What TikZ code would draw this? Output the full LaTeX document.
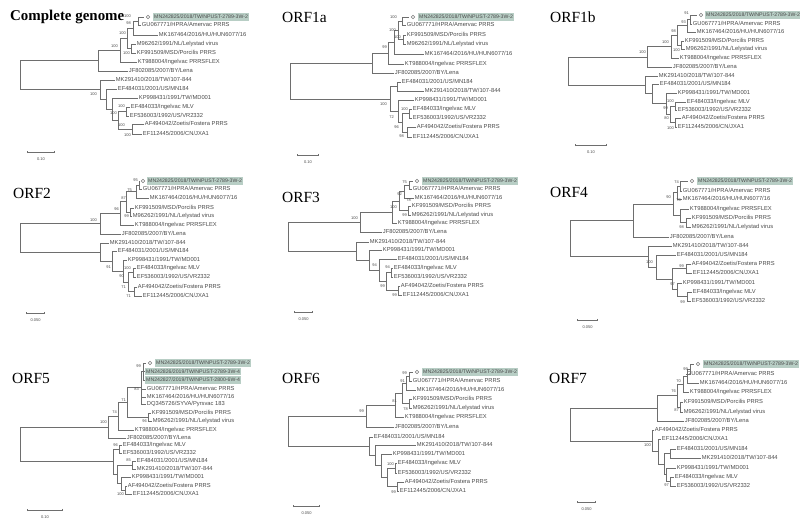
\documentclass[tikz,border=0pt]{standalone}
\usepackage{fontspec}
\setmainfont{Liberation Serif}
\newfontfamily\treefont{Liberation Sans}
\usetikzlibrary{arrows.meta}
\definecolor{branchgray}{RGB}{110,110,110}
\definecolor{labelgray}{RGB}{75,75,75}
\definecolor{hilitegreen}{RGB}{184,206,197}
\definecolor{markgray}{RGB}{120,120,120}
\newcommand{\leaffont}{\treefont\fontsize{5.8}{6}\selectfont}
\newcommand{\hilitefont}{\treefont\fontsize{5.2}{6}\selectfont}
\newcommand{\bootfont}{\treefont\fontsize{4}{5}\selectfont}
\newcommand{\titlefont}{\fontsize{15.5}{17}\selectfont}

\begin{document}
\begin{tikzpicture}[x=1bp, y=-1bp]
    \useasboundingbox[fill=white] (0,0) rectangle (800,530);
    \tikzset{Branch/.style={draw=branchgray, line width=0.6bp}}
    \tikzset{Leaf/.style={anchor=west, inner sep=0.7bp, font=\leaffont, text=labelgray, text height=4.1bp, text depth=0.5bp}}
    \tikzset{HiLeaf/.style={Leaf, font=\hilitefont, fill=hilitegreen, inner xsep=1bp, inner ysep=1.3bp}}
    \tikzset{Marker/.style={circle, draw=markgray, line width=0.45bp, minimum size=3.6bp, inner sep=0pt, outer sep=2.3bp}}
    \tikzset{Boot/.style={anchor=east, inner sep=0pt, font=\bootfont, text=labelgray}}
    \tikzset{Title/.style={anchor=base west, inner sep=0pt, font=\titlefont}}
    \tikzset{ScaleBar/.style={draw=branchgray, line width=0.6bp, arrows={Bar[width=2.4bp]-Bar[width=2.4bp]}}}
    \tikzset{ScaleText/.style={font=\bootfont, text=labelgray, inner sep=0pt, below=5.5bp}}

    % complete genome
    \node[Title, font={\fontsize{15}{17}\selectfont\bfseries}] (cg-title) at (10,21) {Complete genome};
    \node[Marker] (cg-mark) at (148,17) {};
    \node[HiLeaf] (cg-leaf-1) at (153,17) {MN242825/2018/TW/NPUST-2789-3W-2};
    \node[Leaf] (cg-leaf-2) at (141,25) {GU067771/HPRA/Amervac PRRS};
    \node[Leaf] (cg-leaf-3) at (158,35) {MK167464/2016/HU/HUN6077/16};
    \node[Leaf] (cg-leaf-4) at (136,44) {M96262/1991/NL/Lelystad virus};
    \node[Leaf] (cg-leaf-5) at (136,53) {KF991509/MSD/Porcilis PRRS};
    \node[Leaf] (cg-leaf-6) at (137,62) {KT988004/Ingelvac PRRSFLEX};
    \node[Leaf] (cg-leaf-7) at (128,71) {JF802085/2007/BY/Lena};
    \node[Leaf] (cg-leaf-8) at (115,80) {MK291410/2018/TW/107-844};
    \node[Leaf] (cg-leaf-9) at (117,89) {EF484031/2001/US/MN184};
    \node[Leaf] (cg-leaf-10) at (138,98) {KP998431/1991/TW/MD001};
    \node[Leaf] (cg-leaf-11) at (130,107) {EF484033/Ingelvac MLV};
    \node[Leaf] (cg-leaf-12) at (129,116) {EF536003/1992/US/VR2332};
    \node[Leaf] (cg-leaf-13) at (144,124) {AF494042/Zoetis/Fostera PRRS};
    \node[Leaf] (cg-leaf-14) at (142,134) {EF112445/2006/CN/JXA1};
    \coordinate (cg-node-1) at (138,21);
    \coordinate (cg-node-2) at (133,28);
    \coordinate (cg-node-3) at (131,48.5);
    \coordinate (cg-node-4) at (127,38.25);
    \coordinate (cg-node-5) at (120,50.1);
    \coordinate (cg-node-6) at (98,60.5);
    \coordinate (cg-node-7) at (126,111.5);
    \coordinate (cg-node-8) at (132,129);
    \coordinate (cg-node-9) at (118,120.25);
    \coordinate (cg-node-10) at (112,109.1);
    \coordinate (cg-node-11) at (106,99);
    \coordinate (cg-node-12) at (100,89.5);
    \coordinate (cg-root) at (20,75);
    \draw[Branch] (cg-node-1) |- (cg-mark) (cg-node-1) |- (cg-leaf-2);
    \draw[Branch] (cg-node-2) |- (cg-node-1) (cg-node-2) |- (cg-leaf-3);
    \draw[Branch] (cg-node-3) |- (cg-leaf-4) (cg-node-3) |- (cg-leaf-5);
    \draw[Branch] (cg-node-4) |- (cg-node-2) (cg-node-4) |- (cg-node-3);
    \draw[Branch] (cg-node-5) |- (cg-node-4) (cg-node-5) |- (cg-leaf-6);
    \draw[Branch] (cg-node-6) |- (cg-node-5) (cg-node-6) |- (cg-leaf-7);
    \draw[Branch] (cg-node-7) |- (cg-leaf-11) (cg-node-7) |- (cg-leaf-12);
    \draw[Branch] (cg-node-8) |- (cg-leaf-13) (cg-node-8) |- (cg-leaf-14);
    \draw[Branch] (cg-node-9) |- (cg-node-7) (cg-node-9) |- (cg-node-8);
    \draw[Branch] (cg-node-10) |- (cg-leaf-10) (cg-node-10) |- (cg-node-9);
    \draw[Branch] (cg-node-11) |- (cg-leaf-9) (cg-node-11) |- (cg-node-10);
    \draw[Branch] (cg-node-12) |- (cg-leaf-8) (cg-node-12) |- (cg-node-11);
    \draw[Branch] (cg-root) |- (cg-node-6) (cg-root) |- (cg-node-12);
    \node[Boot] (cg-boot-1) at (131,16.5) {100};
    \node[Boot] (cg-boot-2) at (131,23.5) {98};
    \node[Boot] (cg-boot-3) at (126,33) {100};
    \node[Boot] (cg-boot-4) at (118,46) {100};
    \node[Boot] (cg-boot-5) at (130,53) {100};
    \node[Boot] (cg-boot-6) at (97,94) {100};
    \node[Boot] (cg-boot-7) at (125,106) {100};
    \node[Boot] (cg-boot-8) at (117,113) {100};
    \node[Boot] (cg-boot-9) at (125,125) {100};
    \node[Boot] (cg-boot-10) at (131,135) {100};
    \coordinate (cg-bar-l) at (27,152);
    \coordinate (cg-bar-r) at (55,152);
    \draw[ScaleBar] (cg-bar-l) -- node[ScaleText] (cg-bar-t) {0.10} (cg-bar-r);

    % ORF1a
    \node[Title] (a-title) at (282,23) {ORF1a};
    \node[Marker] (a-mark) at (413,17) {};
    \node[HiLeaf] (a-leaf-1) at (418,17) {MN242825/2018/TW/NPUST-2789-3W-2};
    \node[Leaf] (a-leaf-2) at (406,25) {GU067771/HPRA/Amervac PRRS};
    \node[Leaf] (a-leaf-3) at (406,35) {KF991509/MSD/Porcilis PRRS};
    \node[Leaf] (a-leaf-4) at (406,44) {M96262/1991/NL/Lelystad virus};
    \node[Leaf] (a-leaf-5) at (424,54) {MK167464/2016/HU/HUN6077/16};
    \node[Leaf] (a-leaf-6) at (404,64) {KT988004/Ingelvac PRRSFLEX};
    \node[Leaf] (a-leaf-7) at (394,73) {JF802085/2007/BY/Lena};
    \node[Leaf] (a-leaf-8) at (401,82) {EF484031/2001/US/MN184};
    \node[Leaf] (a-leaf-9) at (424,91) {MK291410/2018/TW/107-844};
    \node[Leaf] (a-leaf-10) at (414,100) {KP998431/1991/TW/MD001};
    \node[Leaf] (a-leaf-11) at (412,109) {EF484033/Ingelvac MLV};
    \node[Leaf] (a-leaf-12) at (412,118) {EF536003/1992/US/VR2332};
    \node[Leaf] (a-leaf-13) at (416,127) {AF494042/Zoetis/Fostera PRRS};
    \node[Leaf] (a-leaf-14) at (412,137) {EF112445/2006/CN/JXA1};
    \coordinate (a-node-1) at (402,21);
    \coordinate (a-node-2) at (403,39.5);
    \coordinate (a-node-3) at (398,30.25);
    \coordinate (a-node-4) at (394,42.1);
    \coordinate (a-node-5) at (388,53);
    \coordinate (a-node-6) at (372,63);
    \coordinate (a-node-7) at (397,86.5);
    \coordinate (a-node-8) at (409,113.5);
    \coordinate (a-node-9) at (407,132);
    \coordinate (a-node-10) at (402,122.75);
    \coordinate (a-node-11) at (398,111.4);
    \coordinate (a-node-12) at (390,99);
    \coordinate (a-root) at (290,81);
    \draw[Branch] (a-node-1) |- (a-mark) (a-node-1) |- (a-leaf-2);
    \draw[Branch] (a-node-2) |- (a-leaf-3) (a-node-2) |- (a-leaf-4);
    \draw[Branch] (a-node-3) |- (a-node-1) (a-node-3) |- (a-node-2);
    \draw[Branch] (a-node-4) |- (a-node-3) (a-node-4) |- (a-leaf-5);
    \draw[Branch] (a-node-5) |- (a-node-4) (a-node-5) |- (a-leaf-6);
    \draw[Branch] (a-node-6) |- (a-node-5) (a-node-6) |- (a-leaf-7);
    \draw[Branch] (a-node-7) |- (a-leaf-8) (a-node-7) |- (a-leaf-9);
    \draw[Branch] (a-node-8) |- (a-leaf-11) (a-node-8) |- (a-leaf-12);
    \draw[Branch] (a-node-9) |- (a-leaf-13) (a-node-9) |- (a-leaf-14);
    \draw[Branch] (a-node-10) |- (a-node-8) (a-node-10) |- (a-node-9);
    \draw[Branch] (a-node-11) |- (a-leaf-10) (a-node-11) |- (a-node-10);
    \draw[Branch] (a-node-12) |- (a-node-7) (a-node-12) |- (a-node-11);
    \draw[Branch] (a-root) |- (a-node-6) (a-root) |- (a-node-12);
    \node[Boot] (a-boot-1) at (397,17.5) {100};
    \node[Boot] (a-boot-2) at (396,30) {100};
    \node[Boot] (a-boot-3) at (401,37) {100};
    \node[Boot] (a-boot-4) at (387,47) {99};
    \node[Boot] (a-boot-5) at (387,104) {100};
    \node[Boot] (a-boot-6) at (408,109) {100};
    \node[Boot] (a-boot-7) at (394,117) {72};
    \node[Boot] (a-boot-8) at (399,127.5) {96};
    \node[Boot] (a-boot-9) at (404,136.5) {98};
    \coordinate (a-bar-l) at (297,155);
    \coordinate (a-bar-r) at (319,155);
    \draw[ScaleBar] (a-bar-l) -- node[ScaleText] (a-bar-t) {0.10} (a-bar-r);

    % ORF1b
    \node[Title] (b-title) at (550,23) {ORF1b};
    \node[Marker] (b-mark) at (701,15) {};
    \node[HiLeaf] (b-leaf-1) at (705,15) {MN242825/2018/TW/NPUST-2789-3W-2};
    \node[Leaf] (b-leaf-2) at (692,24) {GU067771/HPRA/Amervac PRRS};
    \node[Leaf] (b-leaf-3) at (696,32) {MK167464/2016/HU/HUN6077/16};
    \node[Leaf] (b-leaf-4) at (684,41) {KF991509/MSD/Porcilis PRRS};
    \node[Leaf] (b-leaf-5) at (685,49) {M96262/1991/NL/Lelystad virus};
    \node[Leaf] (b-leaf-6) at (679,58) {KT988004/Ingelvac PRRSFLEX};
    \node[Leaf] (b-leaf-7) at (672,67) {JF802085/2007/BY/Lena};
    \node[Leaf] (b-leaf-8) at (658,76) {MK291410/2018/TW/107-844};
    \node[Leaf] (b-leaf-9) at (659,84) {EF484031/2001/US/MN184};
    \node[Leaf] (b-leaf-10) at (677,93) {KP998431/1991/TW/MD001};
    \node[Leaf] (b-leaf-11) at (686,102) {EF484033/Ingelvac MLV};
    \node[Leaf] (b-leaf-12) at (677,110) {EF536003/1992/US/VR2332};
    \node[Leaf] (b-leaf-13) at (681,118) {AF494042/Zoetis/Fostera PRRS};
    \node[Leaf] (b-leaf-14) at (677,127) {EF112445/2006/CN/JXA1};
    \coordinate (b-node-1) at (690,19.5);
    \coordinate (b-node-2) at (687,25.75);
    \coordinate (b-node-3) at (681,45);
    \coordinate (b-node-4) at (677,35.4);
    \coordinate (b-node-5) at (671,46.7);
    \coordinate (b-node-6) at (647,56.9);
    \coordinate (b-node-7) at (675,106);
    \coordinate (b-node-8) at (675,122.5);
    \coordinate (b-node-9) at (670,114.25);
    \coordinate (b-node-10) at (666,103.6);
    \coordinate (b-node-11) at (652,93.8);
    \coordinate (b-node-12) at (645,84.9);
    \coordinate (b-root) at (568,70.9);
    \draw[Branch] (b-node-1) |- (b-mark) (b-node-1) |- (b-leaf-2);
    \draw[Branch] (b-node-2) |- (b-node-1) (b-node-2) |- (b-leaf-3);
    \draw[Branch] (b-node-3) |- (b-leaf-4) (b-node-3) |- (b-leaf-5);
    \draw[Branch] (b-node-4) |- (b-node-2) (b-node-4) |- (b-node-3);
    \draw[Branch] (b-node-5) |- (b-node-4) (b-node-5) |- (b-leaf-6);
    \draw[Branch] (b-node-6) |- (b-node-5) (b-node-6) |- (b-leaf-7);
    \draw[Branch] (b-node-7) |- (b-leaf-11) (b-node-7) |- (b-leaf-12);
    \draw[Branch] (b-node-8) |- (b-leaf-13) (b-node-8) |- (b-leaf-14);
    \draw[Branch] (b-node-9) |- (b-node-7) (b-node-9) |- (b-node-8);
    \draw[Branch] (b-node-10) |- (b-leaf-10) (b-node-10) |- (b-node-9);
    \draw[Branch] (b-node-11) |- (b-leaf-9) (b-node-11) |- (b-node-10);
    \draw[Branch] (b-node-12) |- (b-leaf-8) (b-node-12) |- (b-node-11);
    \draw[Branch] (b-root) |- (b-node-6) (b-root) |- (b-node-12);
    \node[Boot] (b-boot-1) at (689,13.5) {91};
    \node[Boot] (b-boot-2) at (686,22) {93};
    \node[Boot] (b-boot-3) at (676,31) {98};
    \node[Boot] (b-boot-4) at (669,42) {100};
    \node[Boot] (b-boot-5) at (680,50) {100};
    \node[Boot] (b-boot-6) at (646,52) {100};
    \node[Boot] (b-boot-7) at (674,101) {100};
    \node[Boot] (b-boot-8) at (668,108) {99};
    \node[Boot] (b-boot-9) at (669,118) {80};
    \node[Boot] (b-boot-10) at (674,128) {100};
    \coordinate (b-bar-l) at (575,145);
    \coordinate (b-bar-r) at (607,145);
    \draw[ScaleBar] (b-bar-l) -- node[ScaleText] (b-bar-t) {0.10} (b-bar-r);

    % ORF2
    \node[Title] (o2-title) at (13,199) {ORF2};
    \node[Marker] (o2-mark) at (143,181) {};
    \node[HiLeaf] (o2-leaf-1) at (147,181) {MN242825/2018/TW/NPUST-2789-3W-2};
    \node[Leaf] (o2-leaf-2) at (142,189) {GU067771/HPRA/Amervac PRRS};
    \node[Leaf] (o2-leaf-3) at (149,198) {MK167464/2016/HU/HUN6077/16};
    \node[Leaf] (o2-leaf-4) at (134,208) {KF991509/MSD/Porcilis PRRS};
    \node[Leaf] (o2-leaf-5) at (132,216) {M96262/1991/NL/Lelystad virus};
    \node[Leaf] (o2-leaf-6) at (134,225) {KT988004/Ingelvac PRRSFLEX};
    \node[Leaf] (o2-leaf-7) at (121,234) {JF802085/2007/BY/Lena};
    \node[Leaf] (o2-leaf-8) at (109,243) {MK291410/2018/TW/107-844};
    \node[Leaf] (o2-leaf-9) at (117,251) {EF484031/2001/US/MN184};
    \node[Leaf] (o2-leaf-10) at (127,260) {KP998431/1991/TW/MD001};
    \node[Leaf] (o2-leaf-11) at (136,268) {EF484033/Ingelvac MLV};
    \node[Leaf] (o2-leaf-12) at (136,277) {EF536003/1992/US/VR2332};
    \node[Leaf] (o2-leaf-13) at (137,287) {AF494042/Zoetis/Fostera PRRS};
    \node[Leaf] (o2-leaf-14) at (142,296) {EF112445/2006/CN/JXA1};
    \coordinate (o2-node-1) at (139,185);
    \coordinate (o2-node-2) at (136,191.5);
    \coordinate (o2-node-3) at (130,212);
    \coordinate (o2-node-4) at (126,201.75);
    \coordinate (o2-node-5) at (120,213.4);
    \coordinate (o2-node-6) at (100,223.7);
    \coordinate (o2-node-7) at (133,272.5);
    \coordinate (o2-node-8) at (134,291.5);
    \coordinate (o2-node-9) at (128,282);
    \coordinate (o2-node-10) at (123,271);
    \coordinate (o2-node-11) at (112,261);
    \coordinate (o2-node-12) at (100,252);
    \coordinate (o2-root) at (20,237.85);
    \draw[Branch] (o2-node-1) |- (o2-mark) (o2-node-1) |- (o2-leaf-2);
    \draw[Branch] (o2-node-2) |- (o2-node-1) (o2-node-2) |- (o2-leaf-3);
    \draw[Branch] (o2-node-3) |- (o2-leaf-4) (o2-node-3) |- (o2-leaf-5);
    \draw[Branch] (o2-node-4) |- (o2-node-2) (o2-node-4) |- (o2-node-3);
    \draw[Branch] (o2-node-5) |- (o2-node-4) (o2-node-5) |- (o2-leaf-6);
    \draw[Branch] (o2-node-6) |- (o2-node-5) (o2-node-6) |- (o2-leaf-7);
    \draw[Branch] (o2-node-7) |- (o2-leaf-11) (o2-node-7) |- (o2-leaf-12);
    \draw[Branch] (o2-node-8) |- (o2-leaf-13) (o2-node-8) |- (o2-leaf-14);
    \draw[Branch] (o2-node-9) |- (o2-node-7) (o2-node-9) |- (o2-node-8);
    \draw[Branch] (o2-node-10) |- (o2-leaf-10) (o2-node-10) |- (o2-node-9);
    \draw[Branch] (o2-node-11) |- (o2-leaf-9) (o2-node-11) |- (o2-node-10);
    \draw[Branch] (o2-node-12) |- (o2-leaf-8) (o2-node-12) |- (o2-node-11);
    \draw[Branch] (o2-root) |- (o2-node-6) (o2-root) |- (o2-node-12);
    \node[Boot] (o2-boot-1) at (138,180.5) {95};
    \node[Boot] (o2-boot-2) at (132,190) {75};
    \node[Boot] (o2-boot-3) at (126,198) {87};
    \node[Boot] (o2-boot-4) at (119,209) {96};
    \node[Boot] (o2-boot-5) at (129,216) {99};
    \node[Boot] (o2-boot-6) at (97,220) {100};
    \node[Boot] (o2-boot-7) at (111,267) {91};
    \node[Boot] (o2-boot-8) at (131,268.5) {100};
    \node[Boot] (o2-boot-9) at (124,276) {90};
    \node[Boot] (o2-boot-10) at (126,287) {71};
    \node[Boot] (o2-boot-11) at (131,296.5) {71};
    \coordinate (o2-bar-l) at (26,313);
    \coordinate (o2-bar-r) at (45,313);
    \draw[ScaleBar] (o2-bar-l) -- node[ScaleText] (o2-bar-t) {0.050} (o2-bar-r);

    % ORF3
    \node[Title] (o3-title) at (282,203) {ORF3};
    \node[Marker] (o3-mark) at (417,181) {};
    \node[HiLeaf] (o3-leaf-1) at (422,181) {MN242825/2018/TW/NPUST-2789-3W-2};
    \node[Leaf] (o3-leaf-2) at (412,189) {GU067771/HPRA/Amervac PRRS};
    \node[Leaf] (o3-leaf-3) at (414,198) {MK167464/2016/HU/HUN6077/16};
    \node[Leaf] (o3-leaf-4) at (411,206) {KF991509/MSD/Porcilis PRRS};
    \node[Leaf] (o3-leaf-5) at (411,215) {M96262/1991/NL/Lelystad virus};
    \node[Leaf] (o3-leaf-6) at (397,223) {KT988004/Ingelvac PRRSFLEX};
    \node[Leaf] (o3-leaf-7) at (382,232) {JF802085/2007/BY/Lena};
    \node[Leaf] (o3-leaf-8) at (369,242) {MK291410/2018/TW/107-844};
    \node[Leaf] (o3-leaf-9) at (382,250) {KP998431/1991/TW/MD001};
    \node[Leaf] (o3-leaf-10) at (397,259) {EF484031/2001/US/MN184};
    \node[Leaf] (o3-leaf-11) at (393,268) {EF484033/Ingelvac MLV};
    \node[Leaf] (o3-leaf-12) at (393,277) {EF536003/1992/US/VR2332};
    \node[Leaf] (o3-leaf-13) at (400,286) {AF494042/Zoetis/Fostera PRRS};
    \node[Leaf] (o3-leaf-14) at (402,295) {EF112445/2006/CN/JXA1};
    \coordinate (o3-node-1) at (409,185);
    \coordinate (o3-node-2) at (404,191.5);
    \coordinate (o3-node-3) at (408,210.5);
    \coordinate (o3-node-4) at (399,201);
    \coordinate (o3-node-5) at (392,212);
    \coordinate (o3-node-6) at (360,222);
    \coordinate (o3-node-7) at (391,272.5);
    \coordinate (o3-node-8) at (398,290.5);
    \coordinate (o3-node-9) at (386,281.5);
    \coordinate (o3-node-10) at (379,270.25);
    \coordinate (o3-node-11) at (369,260);
    \coordinate (o3-node-12) at (356,251);
    \coordinate (o3-root) at (288,236.5);
    \draw[Branch] (o3-node-1) |- (o3-mark) (o3-node-1) |- (o3-leaf-2);
    \draw[Branch] (o3-node-2) |- (o3-node-1) (o3-node-2) |- (o3-leaf-3);
    \draw[Branch] (o3-node-3) |- (o3-leaf-4) (o3-node-3) |- (o3-leaf-5);
    \draw[Branch] (o3-node-4) |- (o3-node-2) (o3-node-4) |- (o3-node-3);
    \draw[Branch] (o3-node-5) |- (o3-node-4) (o3-node-5) |- (o3-leaf-6);
    \draw[Branch] (o3-node-6) |- (o3-node-5) (o3-node-6) |- (o3-leaf-7);
    \draw[Branch] (o3-node-7) |- (o3-leaf-11) (o3-node-7) |- (o3-leaf-12);
    \draw[Branch] (o3-node-8) |- (o3-leaf-13) (o3-node-8) |- (o3-leaf-14);
    \draw[Branch] (o3-node-9) |- (o3-node-7) (o3-node-9) |- (o3-node-8);
    \draw[Branch] (o3-node-10) |- (o3-leaf-10) (o3-node-10) |- (o3-node-9);
    \draw[Branch] (o3-node-11) |- (o3-leaf-9) (o3-node-11) |- (o3-node-10);
    \draw[Branch] (o3-node-12) |- (o3-leaf-8) (o3-node-12) |- (o3-node-11);
    \draw[Branch] (o3-root) |- (o3-node-6) (o3-root) |- (o3-node-12);
    \node[Boot] (o3-boot-1) at (407,182.5) {75};
    \node[Boot] (o3-boot-2) at (402,194) {92};
    \node[Boot] (o3-boot-3) at (411,200.5) {78};
    \node[Boot] (o3-boot-4) at (397,207) {100};
    \node[Boot] (o3-boot-5) at (407,215.5) {99};
    \node[Boot] (o3-boot-6) at (358,218) {100};
    \node[Boot] (o3-boot-7) at (377,265) {94};
    \node[Boot] (o3-boot-8) at (390,267.5) {94};
    \node[Boot] (o3-boot-9) at (385,286) {99};
    \node[Boot] (o3-boot-10) at (397,295.5) {99};
    \coordinate (o3-bar-l) at (294,312);
    \coordinate (o3-bar-r) at (313,312);
    \draw[ScaleBar] (o3-bar-l) -- node[ScaleText] (o3-bar-t) {0.050} (o3-bar-r);

    % ORF4
    \node[Title] (o4-title) at (550,198) {ORF4};
    \node[Marker] (o4-mark) at (692,181) {};
    \node[HiLeaf] (o4-leaf-1) at (697,181) {MN242825/2018/TW/NPUST-2789-3W-2};
    \node[Leaf] (o4-leaf-2) at (682,191) {GU067771/HPRA/Amervac PRRS};
    \node[Leaf] (o4-leaf-3) at (682,199) {MK167464/2016/HU/HUN6077/16};
    \node[Leaf] (o4-leaf-4) at (689,209) {KT988004/Ingelvac PRRSFLEX};
    \node[Leaf] (o4-leaf-5) at (691,218) {KF991509/MSD/Porcilis PRRS};
    \node[Leaf] (o4-leaf-6) at (691,227) {M96262/1991/NL/Lelystad virus};
    \node[Leaf] (o4-leaf-7) at (669,237) {JF802085/2007/BY/Lena};
    \node[Leaf] (o4-leaf-8) at (672,246) {MK291410/2018/TW/107-844};
    \node[Leaf] (o4-leaf-9) at (676,255) {EF484031/2001/US/MN184};
    \node[Leaf] (o4-leaf-10) at (691,264) {AF494042/Zoetis/Fostera PRRS};
    \node[Leaf] (o4-leaf-11) at (692,273) {EF112445/2006/CN/JXA1};
    \node[Leaf] (o4-leaf-12) at (682,283) {KP998431/1991/TW/MD001};
    \node[Leaf] (o4-leaf-13) at (692,292) {EF484033/Ingelvac MLV};
    \node[Leaf] (o4-leaf-14) at (691,301) {EF536003/1992/US/VR2332};
    \coordinate (o4-node-1) at (680,186);
    \coordinate (o4-node-2) at (677,192.5);
    \coordinate (o4-node-3) at (686,222.5);
    \coordinate (o4-node-4) at (680,215.75);
    \coordinate (o4-node-5) at (673,204.1);
    \coordinate (o4-node-6) at (633,220.5);
    \coordinate (o4-node-7) at (686,268.5);
    \coordinate (o4-node-8) at (687,296.5);
    \coordinate (o4-node-9) at (677,289.75);
    \coordinate (o4-node-10) at (672,279.1);
    \coordinate (o4-node-11) at (656,267);
    \coordinate (o4-node-12) at (648,256.5);
    \coordinate (o4-root) at (570,238.5);
    \draw[Branch] (o4-node-1) |- (o4-mark) (o4-node-1) |- (o4-leaf-2);
    \draw[Branch] (o4-node-2) |- (o4-node-1) (o4-node-2) |- (o4-leaf-3);
    \draw[Branch] (o4-node-3) |- (o4-leaf-5) (o4-node-3) |- (o4-leaf-6);
    \draw[Branch] (o4-node-4) |- (o4-leaf-4) (o4-node-4) |- (o4-node-3);
    \draw[Branch] (o4-node-5) |- (o4-node-2) (o4-node-5) |- (o4-node-4);
    \draw[Branch] (o4-node-6) |- (o4-node-5) (o4-node-6) |- (o4-leaf-7);
    \draw[Branch] (o4-node-7) |- (o4-leaf-10) (o4-node-7) |- (o4-leaf-11);
    \draw[Branch] (o4-node-8) |- (o4-leaf-13) (o4-node-8) |- (o4-leaf-14);
    \draw[Branch] (o4-node-9) |- (o4-leaf-12) (o4-node-9) |- (o4-node-8);
    \draw[Branch] (o4-node-10) |- (o4-node-7) (o4-node-10) |- (o4-node-9);
    \draw[Branch] (o4-node-11) |- (o4-leaf-9) (o4-node-11) |- (o4-node-10);
    \draw[Branch] (o4-node-12) |- (o4-leaf-8) (o4-node-12) |- (o4-node-11);
    \draw[Branch] (o4-root) |- (o4-node-6) (o4-root) |- (o4-node-12);
    \node[Boot] (o4-boot-1) at (679,182) {74};
    \node[Boot] (o4-boot-2) at (671,197) {90};
    \node[Boot] (o4-boot-3) at (681,200.5) {70};
    \node[Boot] (o4-boot-4) at (684,227) {98};
    \node[Boot] (o4-boot-5) at (653,262) {100};
    \node[Boot] (o4-boot-6) at (684,266) {99};
    \node[Boot] (o4-boot-7) at (675,284) {97};
    \node[Boot] (o4-boot-8) at (685,302) {99};
    \coordinate (o4-bar-l) at (577,320);
    \coordinate (o4-bar-r) at (598,320);
    \draw[ScaleBar] (o4-bar-l) -- node[ScaleText] (o4-bar-t) {0.050} (o4-bar-r);

    % ORF5
    \node[Title] (o5-title) at (12,383) {ORF5};
    \node[Marker] (o5-mark) at (150,363) {};
    \node[HiLeaf] (o5-leaf-1) at (155,363) {MN242825/2018/TW/NPUST-2789-3W-2};
    \node[HiLeaf] (o5-leaf-2) at (145,371.5) {MN242826/2019/TW/NPUST-2789-3W-4};
    \node[HiLeaf] (o5-leaf-3) at (145,380) {MN242827/2019/TW/NPUST-2800-6W-4};
    \node[Leaf] (o5-leaf-4) at (146,389) {GU067771/HPRA/Amervac PRRS};
    \node[Leaf] (o5-leaf-5) at (146,397) {MK167464/2016/HU/HUN6077/16};
    \node[Leaf] (o5-leaf-6) at (146,404) {DQ345726/SYVA/Pyrsvac 183};
    \node[Leaf] (o5-leaf-7) at (151,413) {KF991509/MSD/Porcilis PRRS};
    \node[Leaf] (o5-leaf-8) at (152,421) {M96262/1991/NL/Lelystad virus};
    \node[Leaf] (o5-leaf-9) at (134,430) {KT988004/Ingelvac PRRSFLEX};
    \node[Leaf] (o5-leaf-10) at (126,438) {JF802085/2007/BY/Lena};
    \node[Leaf] (o5-leaf-11) at (122,445) {EF484033/Ingelvac MLV};
    \node[Leaf] (o5-leaf-12) at (122,453) {EF536003/1992/US/VR2332};
    \node[Leaf] (o5-leaf-13) at (136,461) {EF484031/2001/US/MN184};
    \node[Leaf] (o5-leaf-14) at (136,469) {MK291410/2018/TW/107-844};
    \node[Leaf] (o5-leaf-15) at (131,477) {KP998431/1991/TW/MD001};
    \node[Leaf] (o5-leaf-16) at (127,486) {AF494042/Zoetis/Fostera PRRS};
    \node[Leaf] (o5-leaf-17) at (132,494) {EF112445/2006/CN/JXA1};
    \coordinate (o5-node-1) at (143,371.5);
    \coordinate (o5-node-2) at (141,387.75);
    \coordinate (o5-node-3) at (148,417);
    \coordinate (o5-node-4) at (127,402.4);
    \coordinate (o5-node-5) at (118,416.2);
    \coordinate (o5-node-6) at (108,427.1);
    \coordinate (o5-node-7) at (119,449);
    \coordinate (o5-node-8) at (132,465);
    \coordinate (o5-node-9) at (125,490);
    \coordinate (o5-node-10) at (121,483.5);
    \coordinate (o5-node-11) at (117,474.25);
    \coordinate (o5-node-12) at (113,461.6);
    \coordinate (o5-root) at (20,444.35);
    \draw[Branch] (o5-node-1) |- (o5-mark) (o5-node-1) |- (o5-leaf-2) (o5-node-1) |- (o5-leaf-3);
    \draw[Branch] (o5-node-2) |- (o5-node-1) (o5-node-2) |- (o5-leaf-4) (o5-node-2) |- (o5-leaf-5) (o5-node-2) |- (o5-leaf-6);
    \draw[Branch] (o5-node-3) |- (o5-leaf-7) (o5-node-3) |- (o5-leaf-8);
    \draw[Branch] (o5-node-4) |- (o5-node-2) (o5-node-4) |- (o5-node-3);
    \draw[Branch] (o5-node-5) |- (o5-node-4) (o5-node-5) |- (o5-leaf-9);
    \draw[Branch] (o5-node-6) |- (o5-node-5) (o5-node-6) |- (o5-leaf-10);
    \draw[Branch] (o5-node-7) |- (o5-leaf-11) (o5-node-7) |- (o5-leaf-12);
    \draw[Branch] (o5-node-8) |- (o5-leaf-13) (o5-node-8) |- (o5-leaf-14);
    \draw[Branch] (o5-node-9) |- (o5-leaf-16) (o5-node-9) |- (o5-leaf-17);
    \draw[Branch] (o5-node-10) |- (o5-leaf-15) (o5-node-10) |- (o5-node-9);
    \draw[Branch] (o5-node-11) |- (o5-node-8) (o5-node-11) |- (o5-node-10);
    \draw[Branch] (o5-node-12) |- (o5-node-7) (o5-node-12) |- (o5-node-11);
    \draw[Branch] (o5-root) |- (o5-node-6) (o5-root) |- (o5-node-12);
    \node[Boot] (o5-boot-1) at (141,366.5) {99};
    \node[Boot] (o5-boot-2) at (139,389) {83};
    \node[Boot] (o5-boot-3) at (126,400) {71};
    \node[Boot] (o5-boot-4) at (117,412) {74};
    \node[Boot] (o5-boot-5) at (147,421.5) {96};
    \node[Boot] (o5-boot-6) at (107,422) {100};
    \node[Boot] (o5-boot-7) at (118,445) {96};
    \node[Boot] (o5-boot-8) at (131,460) {85};
    \node[Boot] (o5-boot-9) at (124,494) {100};
    \coordinate (o5-bar-l) at (27,510);
    \coordinate (o5-bar-r) at (63,510);
    \draw[ScaleBar] (o5-bar-l) -- node[ScaleText] (o5-bar-t) {0.10} (o5-bar-r);

    % ORF6
    \node[Title] (o6-title) at (282,383) {ORF6};
    \node[Marker] (o6-mark) at (417,372) {};
    \node[HiLeaf] (o6-leaf-1) at (422,372) {MN242825/2018/TW/NPUST-2789-3W-2};
    \node[Leaf] (o6-leaf-2) at (412,381) {GU067771/HPRA/Amervac PRRS};
    \node[Leaf] (o6-leaf-3) at (416,390) {MK167464/2016/HU/HUN6077/16};
    \node[Leaf] (o6-leaf-4) at (412,399) {KF991509/MSD/Porcilis PRRS};
    \node[Leaf] (o6-leaf-5) at (412,408) {M96262/1991/NL/Lelystad virus};
    \node[Leaf] (o6-leaf-6) at (404,417) {KT988004/Ingelvac PRRSFLEX};
    \node[Leaf] (o6-leaf-7) at (394,427) {JF802085/2007/BY/Lena};
    \node[Leaf] (o6-leaf-8) at (373,437) {EF484031/2001/US/MN184};
    \node[Leaf] (o6-leaf-9) at (416,445) {MK291410/2018/TW/107-844};
    \node[Leaf] (o6-leaf-10) at (392,454) {KP998431/1991/TW/MD001};
    \node[Leaf] (o6-leaf-11) at (397,463) {EF484033/Ingelvac MLV};
    \node[Leaf] (o6-leaf-12) at (397,473) {EF536003/1992/US/VR2332};
    \node[Leaf] (o6-leaf-13) at (404,482) {AF494042/Zoetis/Fostera PRRS};
    \node[Leaf] (o6-leaf-14) at (399,491) {EF112445/2006/CN/JXA1};
    \coordinate (o6-node-1) at (409,376.5);
    \coordinate (o6-node-2) at (406,383.25);
    \coordinate (o6-node-3) at (409,403.5);
    \coordinate (o6-node-4) at (402,393.4);
    \coordinate (o6-node-5) at (395,405.2);
    \coordinate (o6-node-6) at (366,416.1);
    \coordinate (o6-node-7) at (395,468);
    \coordinate (o6-node-8) at (397,486.5);
    \coordinate (o6-node-9) at (387,477.25);
    \coordinate (o6-node-10) at (381,465.6);
    \coordinate (o6-node-11) at (375,455.3);
    \coordinate (o6-node-12) at (369,446.2);
    \coordinate (o6-root) at (288,431.1);
    \draw[Branch] (o6-node-1) |- (o6-mark) (o6-node-1) |- (o6-leaf-2);
    \draw[Branch] (o6-node-2) |- (o6-node-1) (o6-node-2) |- (o6-leaf-3);
    \draw[Branch] (o6-node-3) |- (o6-leaf-4) (o6-node-3) |- (o6-leaf-5);
    \draw[Branch] (o6-node-4) |- (o6-node-2) (o6-node-4) |- (o6-node-3);
    \draw[Branch] (o6-node-5) |- (o6-node-4) (o6-node-5) |- (o6-leaf-6);
    \draw[Branch] (o6-node-6) |- (o6-node-5) (o6-node-6) |- (o6-leaf-7);
    \draw[Branch] (o6-node-7) |- (o6-leaf-11) (o6-node-7) |- (o6-leaf-12);
    \draw[Branch] (o6-node-8) |- (o6-leaf-13) (o6-node-8) |- (o6-leaf-14);
    \draw[Branch] (o6-node-9) |- (o6-node-7) (o6-node-9) |- (o6-node-8);
    \draw[Branch] (o6-node-10) |- (o6-leaf-10) (o6-node-10) |- (o6-node-9);
    \draw[Branch] (o6-node-11) |- (o6-leaf-9) (o6-node-11) |- (o6-node-10);
    \draw[Branch] (o6-node-12) |- (o6-leaf-8) (o6-node-12) |- (o6-node-11);
    \draw[Branch] (o6-root) |- (o6-node-6) (o6-root) |- (o6-node-12);
    \node[Boot] (o6-boot-1) at (407,373) {99};
    \node[Boot] (o6-boot-2) at (405,381.5) {91};
    \node[Boot] (o6-boot-3) at (397,401) {81};
    \node[Boot] (o6-boot-4) at (408,409) {78};
    \node[Boot] (o6-boot-5) at (364,411) {99};
    \node[Boot] (o6-boot-6) at (394,464) {100};
    \node[Boot] (o6-boot-7) at (396,492) {99};
    \coordinate (o6-bar-l) at (293,506);
    \coordinate (o6-bar-r) at (320,506);
    \draw[ScaleBar] (o6-bar-l) -- node[ScaleText] (o6-bar-t) {0.050} (o6-bar-r);

    % ORF7
    \node[Title] (o7-title) at (549,383) {ORF7};
    \node[Marker] (o7-mark) at (698,364) {};
    \node[HiLeaf] (o7-leaf-1) at (703,364) {MN242825/2018/TW/NPUST-2789-3W-2};
    \node[Leaf] (o7-leaf-2) at (686,374) {GU067771/HPRA/Amervac PRRS};
    \node[Leaf] (o7-leaf-3) at (699,383) {MK167464/2016/HU/HUN6077/16};
    \node[Leaf] (o7-leaf-4) at (689,392) {KT988004/Ingelvac PRRSFLEX};
    \node[Leaf] (o7-leaf-5) at (683,402) {KF991509/MSD/Porcilis PRRS};
    \node[Leaf] (o7-leaf-6) at (683,412) {M96262/1991/NL/Lelystad virus};
    \node[Leaf] (o7-leaf-7) at (684,421) {JF802085/2007/BY/Lena};
    \node[Leaf] (o7-leaf-8) at (654,430) {AF494042/Zoetis/Fostera PRRS};
    \node[Leaf] (o7-leaf-9) at (661,439) {EF112445/2006/CN/JXA1};
    \node[Leaf] (o7-leaf-10) at (676,449) {EF484031/2001/US/MN184};
    \node[Leaf] (o7-leaf-11) at (701,458) {MK291410/2018/TW/107-844};
    \node[Leaf] (o7-leaf-12) at (676,468) {KP998431/1991/TW/MD001};
    \node[Leaf] (o7-leaf-13) at (674,477) {EF484033/Ingelvac MLV};
    \node[Leaf] (o7-leaf-14) at (676,486) {EF536003/1992/US/VR2332};
    \coordinate (o7-node-1) at (690,369);
    \coordinate (o7-node-2) at (687,376);
    \coordinate (o7-node-3) at (683,384);
    \coordinate (o7-node-4) at (680,407);
    \coordinate (o7-node-5) at (677,395.5);
    \coordinate (o7-node-6) at (657,408.25);
    \coordinate (o7-node-7) at (670,453.5);
    \coordinate (o7-node-8) at (670,481.5);
    \coordinate (o7-node-9) at (666,474.75);
    \coordinate (o7-node-10) at (664,464.1);
    \coordinate (o7-node-11) at (658,451.6);
    \coordinate (o7-node-12) at (652,440.8);
    \coordinate (o7-root) at (570,424.5);
    \draw[Branch] (o7-node-1) |- (o7-mark) (o7-node-1) |- (o7-leaf-2);
    \draw[Branch] (o7-node-2) |- (o7-node-1) (o7-node-2) |- (o7-leaf-3);
    \draw[Branch] (o7-node-3) |- (o7-node-2) (o7-node-3) |- (o7-leaf-4);
    \draw[Branch] (o7-node-4) |- (o7-leaf-5) (o7-node-4) |- (o7-leaf-6);
    \draw[Branch] (o7-node-5) |- (o7-node-3) (o7-node-5) |- (o7-node-4);
    \draw[Branch] (o7-node-6) |- (o7-node-5) (o7-node-6) |- (o7-leaf-7);
    \draw[Branch] (o7-node-7) |- (o7-leaf-10) (o7-node-7) |- (o7-leaf-11);
    \draw[Branch] (o7-node-8) |- (o7-leaf-13) (o7-node-8) |- (o7-leaf-14);
    \draw[Branch] (o7-node-9) |- (o7-leaf-12) (o7-node-9) |- (o7-node-8);
    \draw[Branch] (o7-node-10) |- (o7-node-7) (o7-node-10) |- (o7-node-9);
    \draw[Branch] (o7-node-11) |- (o7-leaf-9) (o7-node-11) |- (o7-node-10);
    \draw[Branch] (o7-node-12) |- (o7-leaf-8) (o7-node-12) |- (o7-node-11);
    \draw[Branch] (o7-root) |- (o7-node-6) (o7-root) |- (o7-node-12);
    \node[Boot] (o7-boot-1) at (688,369.5) {99};
    \node[Boot] (o7-boot-2) at (681,381) {70};
    \node[Boot] (o7-boot-3) at (676,391) {76};
    \node[Boot] (o7-boot-4) at (679,410) {87};
    \node[Boot] (o7-boot-5) at (651,445) {100};
    \node[Boot] (o7-boot-6) at (669,485) {97};
    \coordinate (o7-bar-l) at (577,502);
    \coordinate (o7-bar-r) at (596,502);
    \draw[ScaleBar] (o7-bar-l) -- node[ScaleText] (o7-bar-t) {0.050} (o7-bar-r);
\end{tikzpicture}
\end{document}
